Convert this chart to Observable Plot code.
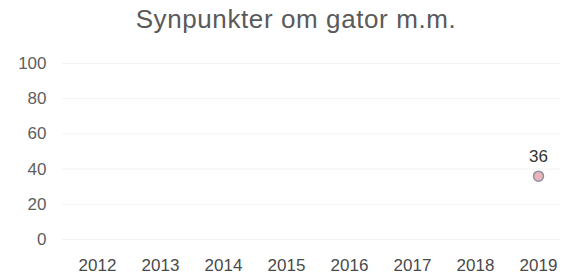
<!DOCTYPE html>
<html><head><meta charset="utf-8">
<script src="https://cdn.jsdelivr.net/npm/d3@7"></script>
<script src="https://cdn.jsdelivr.net/npm/@observablehq/plot@0.6"></script>
<style>
body{margin:0;background:#fff;font-family:"Liberation Sans",Arial,sans-serif;}
#title{height:40px;width:562px;text-align:center;font-size:26px;letter-spacing:0.6px;color:#5a5a5a;line-height:38px;padding-left:30px;box-sizing:border-box;white-space:nowrap;}
</style></head><body>
<div id="title">Synpunkter om gator m.m.</div>
<div id="chart"></div>
<script>
const years = ["2012","2013","2014","2015","2016","2017","2018","2019"];
const seriesYears = ["2019"];
const seriesValues = [36];
const yTicks = [0,20,40,60,80,100];

const data = seriesYears.map((y,i)=>({year:y, value:seriesValues[i]}));

const chart = Plot.plot({
  width:562, height:238,
  marginTop:23, marginBottom:39, marginLeft:62, marginRight:2,
  style:{fontFamily:"Liberation Sans, Arial, sans-serif", fontSize:"17px", color:"#555", background:"#fff"},
  x:{type:"point", domain:years, range:[95,540], padding:0, label:null},
  y:{domain:[0,100], ticks:yTicks, label:null},
  marks:[
    Plot.ruleY(yTicks, {stroke:"#f2f2f2", strokeWidth:1}),
    Plot.axisX({tickSize:0, tickPadding:19, fontSize:17, fill:"#4a4a4a", style:{letterSpacing:"1px"}}),
    Plot.axisY({ticks:yTicks, tickSize:0, tickPadding:16, fontSize:17, fill:"#5e5e5e", style:{letterSpacing:"0.8px"}}),
    Plot.dot(data, {x:"year", y:"value", r:5, fill:"#eab4b8", stroke:"#9090a0", strokeWidth:1.5}),
    Plot.text(data, {x:"year", y:"value", text:d=>String(d.value), dy:-20, fontSize:17, fill:"#333"})
  ]
});
document.getElementById("chart").appendChild(chart);
</script>
</body></html>
